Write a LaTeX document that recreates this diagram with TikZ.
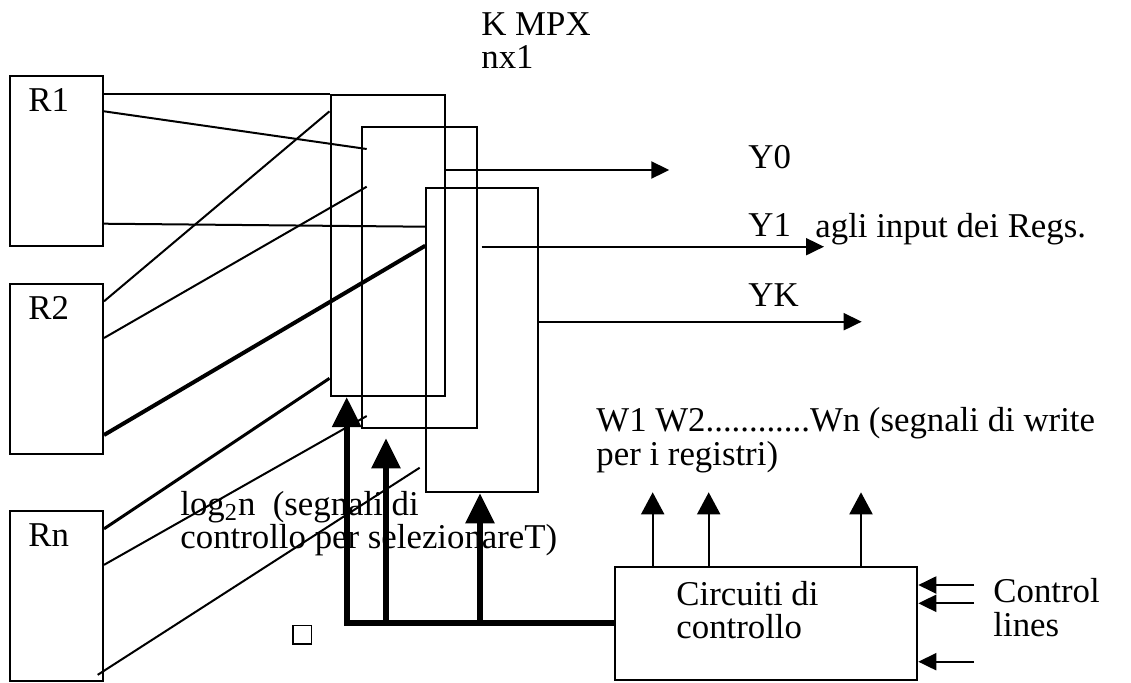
\documentclass[tikz,border=0pt]{standalone}
\usepackage{fontspec}
\setmainfont{Liberation Serif}
\usepackage{tikz}
\usetikzlibrary{positioning,arrows.meta,calc}
\tikzset{
  regnode/.style={draw, line width=1pt, inner sep=0pt, minimum width=46.5pt, minimum height=85.15pt},
  mpxnode/.style={draw, line width=1pt, inner sep=0pt},
  ctrlnode/.style={draw, line width=1pt, inner sep=0pt, minimum width=151.15pt, minimum height=56.65pt},
  tinybox/.style={draw, line width=0.7pt, inner sep=0pt, minimum size=9.4pt},
  lbl/.style={inner sep=0pt, anchor=base west, align=left},
  wire/.style={line width=1pt},
  midwire/.style={line width=1.5pt},
  fatwire/.style={line width=2pt},
  outarrow/.style={-{Triangle[length=9pt, width=8.5pt]}, line width=1pt},
  writearrow/.style={-{Triangle[length=11pt, width=11.5pt]}, line width=1pt},
  busarrow/.style={-{Triangle[length=15pt, width=14pt]}, line width=3pt}
}
\begin{document}
\begin{tikzpicture}[x=0.5pt, y=-0.5pt, every node/.style={font=\fontsize{17.4}{16.65}\selectfont}]
  \useasboundingbox (0,0) rectangle (1131,682);

  \node[regnode] (r1) at (56.5,160.85) {};
  \node[regnode] (r2) at (56.5,369.15) {};
  \node[regnode] (rn) at (56.5,596) {};
  \node[lbl] (r1lab) at (28,111.7) {R1};
  \node[lbl] (r2lab) at (28,319.3) {R2};
  \node[lbl] (rnlab) at (28,546.7) {Rn};

  \node[mpxnode, minimum width=57pt, minimum height=150.75pt] (mpx1) at (387.5,245.25) {};
  \node[mpxnode, minimum width=57.5pt, minimum height=150.5pt] (mpx2) at (419.2,277.2) {};
  \node[mpxnode, minimum width=55.85pt, minimum height=152pt] (mpx3) at (482.15,340.3) {};
  \node[lbl] (mpxlab) at (481,68.3) {K MPX\\nx1};

  \node[ctrlnode] (ctrl) at (766.15,623.35) {};
  \node[lbl] (ctrllab) at (676,638.3) {Circuiti di\\controllo};
  \node[lbl] (linelab) at (993,636) {Control\\lines};
  \node[lbl] (wlab) at (596,465) {W1 W2............Wn (segnali di write\\per i registri)};
  \node[lbl] (sellab) at (180,548.3) {log\textsubscript{2}n\ \ (segnali di\\controllo per selezionareT)};
  \node[tinybox] (sq) at (302.3,634.7) {};

  \node[lbl] (y0lab) at (748,168.3) {Y0};
  \node[lbl] (y1lab) at (748,236.7) {Y1};
  \node[lbl] (yklab) at (748,306) {YK};
  \node[lbl] (reglab) at (815,237.3) {agli input dei Regs.};

  \draw[wire] (mpx1.north west -| r1.east) -- (mpx1.north west);
  \draw[wire] ($(r1.north east)+(0,36.6)$) -- ($(mpx2.north west)+(6,23.3)$);
  \draw[wire] ($(r1.north east)+(0,149)$) -- ($(mpx3.north west)+(0,39.4)$);
  \draw[wire] ($(r2.north east)+(0,18.3)$) -- ($(mpx1.north west)+(0,17.8)$);
  \draw[wire] ($(r2.north east)+(0,55)$) -- ($(mpx2.north west)+(6,61)$);
  \draw[fatwire] ($(r2.north east)+(0,152)$) -- ($(mpx3.north west)+(0,58.4)$);
  \draw[midwire] ($(rn.north east)+(0,19)$) -- ($(mpx1.south west)+(0,-18.7)$);
  \draw[wire] ($(rn.north east)+(0,55)$) -- ($(mpx2.south west)+(6,-12.7)$);
  \draw[wire] ($(rn.north east)+(-6.3,165)$) -- ($(mpx3.south west)+(-5.6,-25.6)$);

  \coordinate (y0end) at (669.3,170);
  \coordinate (y1end) at (824,246.7);
  \coordinate (ykend) at (861.7,321.7);
  \draw[outarrow] (mpx1.east |- y0end) -- (y0end);
  \draw[outarrow] ($(mpx2.east |- y1end)+(4,0)$) -- (y1end);
  \draw[outarrow] (mpx3.east |- ykend) -- (ykend);

  \coordinate (tipa) at ($(mpx1.south west)+(17.2,0)$);
  \coordinate (tipb) at (386,438.3);
  \coordinate (tipc) at ($(mpx3.south west)+(54.7,0)$);
  \draw[busarrow] (ctrl.west) -| (tipa);
  \draw[busarrow] (tipb |- ctrl.west) -- (tipb);
  \draw[busarrow] (tipc |- ctrl.west) -- (tipc);

  \coordinate (w1) at (652.7,492.3);
  \coordinate (w2) at (708.7,492.3);
  \coordinate (wn) at (861,492.3);
  \draw[writearrow] (w1 |- ctrl.north) -- (w1);
  \draw[writearrow] (w2 |- ctrl.north) -- (w2);
  \draw[writearrow] (wn |- ctrl.north) -- (wn);

  \coordinate (cl1) at (974,585);
  \coordinate (cl2) at (974,603.3);
  \coordinate (cl3) at (974,661.7);
  \draw[outarrow] (cl1) -- (cl1 -| ctrl.east);
  \draw[outarrow] (cl2) -- (cl2 -| ctrl.east);
  \draw[outarrow] (cl3) -- (cl3 -| ctrl.east);
\end{tikzpicture}
\end{document}
